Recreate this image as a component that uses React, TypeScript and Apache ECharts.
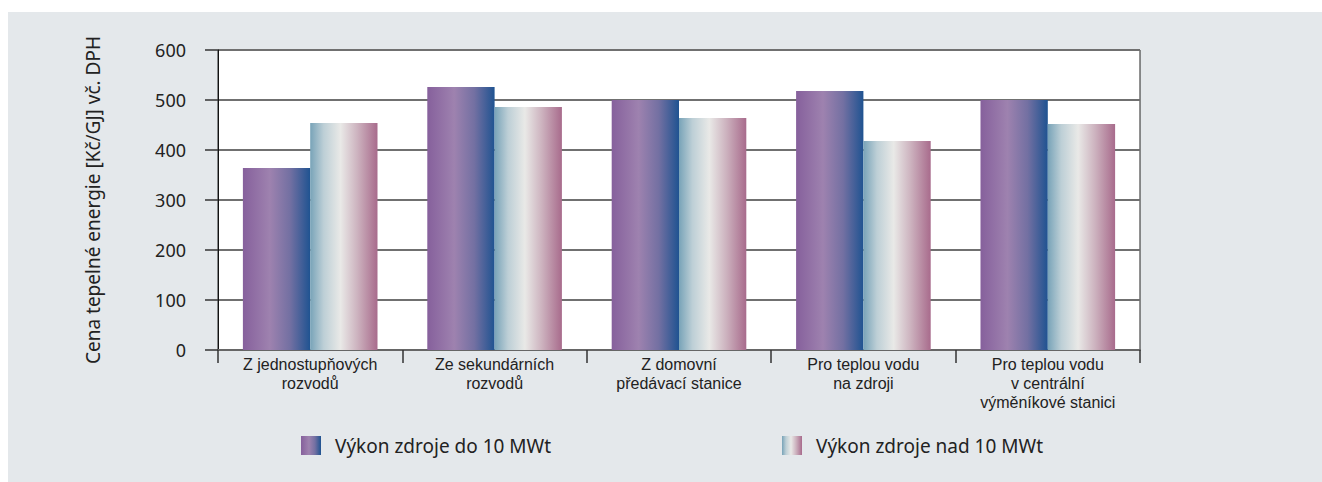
import React, { useEffect, useRef } from "react";
import * as echarts from "echarts";

const categories = [
  "Z jednostupňových\nrozvodů",
  "Ze sekundárních\nrozvodů",
  "Z domovní\npředávací stanice",
  "Pro teplou vodu\nna zdroji",
  "Pro teplou vodu\nv centrální\nvýměníkové stanici",
];
const seriesNames = ["Výkon zdroje do 10 MWt", "Výkon zdroje nad 10 MWt"];
const valuesSmall = [364, 526, 500, 518, 500];
const valuesLarge = [454, 486, 464, 418, 452];
const yAxisName = "Cena tepelné energie [Kč/GJ] vč. DPH";

const FONT = "'Noto Sans', 'Open Sans', sans-serif";
const LABEL_FONT = "'Liberation Sans', Arial, sans-serif";
const BG = "#e4e8eb";

export default function App() {
  const ref = useRef<HTMLDivElement>(null);
  useEffect(() => {
    if (!ref.current) return;
    document.documentElement.style.background = BG;
    document.body.style.background = BG;
    const chart = echarts.init(ref.current, null, { renderer: "svg" });
    const purple = new echarts.graphic.LinearGradient(0, 0, 1, 0, [
      { offset: 0, color: "#86609c" },
      { offset: 0.4, color: "#9e82af" },
      { offset: 0.7, color: "#7370a2" },
      { offset: 1, color: "#1f5391" },
    ]);
    const light = new echarts.graphic.LinearGradient(0, 0, 1, 0, [
      { offset: 0, color: "#78a3b8" },
      { offset: 0.2, color: "#bdcfd6" },
      { offset: 0.45, color: "#e9e9e7" },
      { offset: 0.7, color: "#cdb3bf" },
      { offset: 1, color: "#a86b8c" },
    ]);
    const legendText = {
      fontSize: 19,
      color: "#222",
      fontFamily: FONT,
      padding: [0, 0, 0, 9],
    };
    chart.setOption({
      animation: false,
      backgroundColor: BG,
      textStyle: { fontFamily: FONT },
      grid: {
        left: 210,
        right: 182,
        top: 38,
        bottom: 132,
        show: true,
        backgroundColor: "#ffffff",
        borderColor: "#222",
        borderWidth: 1,
      },
      legend: [
        {
          data: [seriesNames[0]],
          left: 288,
          top: 419,
          itemWidth: 20,
          itemHeight: 19,
          icon: "rect",
          textStyle: legendText,
        },
        {
          data: [seriesNames[1]],
          left: 769,
          top: 419,
          itemWidth: 20,
          itemHeight: 19,
          icon: "rect",
          textStyle: legendText,
        },
      ],
      xAxis: {
        type: "category",
        data: categories,
        boundaryGap: true,
        axisLine: { show: true, lineStyle: { color: "#666", width: 2 } },
        axisTick: { show: true, length: 13, interval: 0, lineStyle: { color: "#333", width: 1.5 } },
        axisLabel: {
          interval: 0,
          fontSize: 16,
          lineHeight: 19,
          color: "#222",
          margin: 5,
          fontFamily: LABEL_FONT,
        },
      },
      yAxis: {
        type: "value",
        min: 0,
        max: 600,
        interval: 100,
        name: yAxisName,
        nameLocation: "middle",
        nameGap: 116,
        nameTextStyle: { fontSize: 19, color: "#222", fontFamily: FONT },
        axisLine: { show: true, lineStyle: { color: "#111", width: 1 } },
        axisTick: { show: true, length: 13, lineStyle: { color: "#333", width: 1.5 } },
        axisLabel: { fontSize: 18, color: "#222", margin: 32, fontFamily: FONT },
        splitLine: { show: true, lineStyle: { color: "#707070", width: 2 } },
      },
      series: [
        {
          name: seriesNames[0],
          type: "bar",
          data: valuesSmall,
          barGap: "0%",
          barCategoryGap: "27%",
          itemStyle: { color: purple },
        },
        {
          name: seriesNames[1],
          type: "bar",
          data: valuesLarge,
          barGap: "0%",
          barCategoryGap: "27%",
          itemStyle: { color: light },
        },
      ],
    });
    return () => chart.dispose();
  }, []);
  return (
    <>
      <div
        style={{
          position: "fixed",
          left: 0,
          top: 0,
          width: 3000,
          height: 12,
          background: "#ffffff",
        }}
      />
      <div
        style={{
          position: "fixed",
          left: 0,
          top: 0,
          width: 8,
          height: 2000,
          background: "#ffffff",
        }}
      />
      <div
        ref={ref}
        style={{ width: 1314, height: 470, position: "fixed", left: 8, top: 12 }}
      />
    </>
  );
}
